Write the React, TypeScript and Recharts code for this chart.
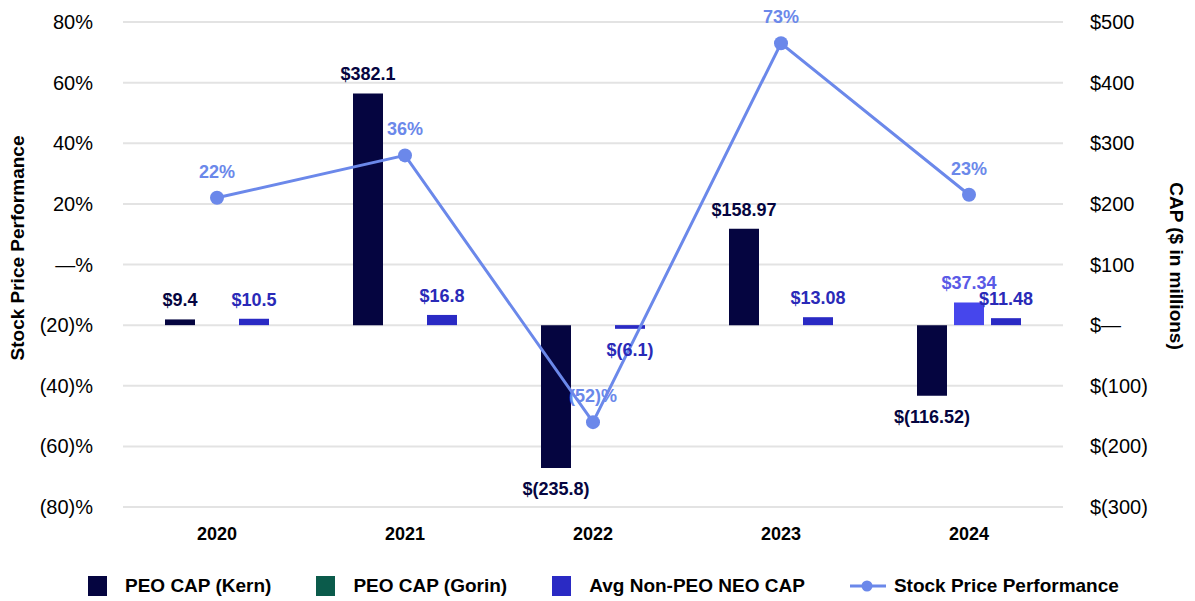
import React from 'react';
import {
  ComposedChart,
  Bar,
  Line,
  XAxis,
  YAxis,
  CartesianGrid,
  Legend,
  LabelList,
  Cell,
} from 'recharts';

const years = ['2020', '2021', '2022', '2023', '2024'];
const kernCap = [9.4, 382.1, -235.8, 158.97, -116.52];
const gorinCap: (number | null)[] = [null, null, null, null, 37.34];
const avgNeoCap = [10.5, 16.8, -6.1, 13.08, 11.48];
const stockPerf = [22, 36, -52, 73, 23];

const leftTicks = [-80, -60, -40, -20, 0, 20, 40, 60, 80];
const rightTicks = [-300, -200, -100, 0, 100, 200, 300, 400, 500];

const seriesNames = ['PEO CAP (Kern)', 'PEO CAP (Gorin)', 'Avg Non-PEO NEO CAP', 'Stock Price Performance'];

const data = years.map((y, i) => ({
  year: y,
  kern: kernCap[i],
  gorin: gorinCap[i],
  avg: avgNeoCap[i],
  stock: stockPerf[i],
}));

const FONT = '"Liberation Sans", Arial, Helvetica, sans-serif';
const NAVY = '#050540';
const GREEN = '#0b5b4b';
const BLUE = '#2a2ac4';
const BRIGHT = '#4646ec';
const LINE = '#6b88ea';

const fmtPct = (v: number) => (v === 0 ? '—%' : v < 0 ? `(${-v})%` : `${v}%`);
const fmtCapAxis = (v: number) => (v === 0 ? '$—' : v < 0 ? `$(${-v})` : `$${v}`);
const fmtCap = (v: number) => (v < 0 ? `$(${Math.abs(v)})` : `$${v}`);

const makeBarLabel = (color: string) => (props: any) => {
  const { x, y, width, height, value } = props;
  if (value === null || value === undefined) return null;
  const top = Math.min(y, y + height);
  const bottom = Math.max(y, y + height);
  const cy = value >= 0 ? top - 19 : bottom + 21;
  return (
    <text
      x={x + width / 2}
      y={cy}
      textAnchor="middle"
      dominantBaseline="central"
      fill={color}
      fontFamily={FONT}
      fontWeight="bold"
      fontSize={18}
    >
      {fmtCap(value)}
    </text>
  );
};

const lineLabel = (props: any) => {
  const { x, y, value } = props;
  if (value === null || value === undefined) return null;
  return (
    <text
      x={x}
      y={y - 26}
      textAnchor="middle"
      dominantBaseline="central"
      fill={LINE}
      fontFamily={FONT}
      fontWeight="bold"
      fontSize={18}
    >
      {fmtPct(value)}
    </text>
  );
};

const LeftAxisLabel = (props: any) => {
  return (
    <text
      x={17}
      y={248}
      transform={`rotate(-90, 17, 248)`}
      textAnchor="middle"
      dominantBaseline="central"
      fill="#000"
      fontFamily={FONT}
      fontWeight="bold"
      fontSize={19}
    >
      Stock Price Performance
    </text>
  );
};

const RightAxisLabel = (props: any) => {
  return (
    <text
      x={1176}
      y={266}
      transform={`rotate(90, 1176, 266)`}
      textAnchor="middle"
      dominantBaseline="central"
      fill="#000"
      fontFamily={FONT}
      fontWeight="bold"
      fontSize={19}
    >
      CAP ($ in millions)
    </text>
  );
};

const renderLegend = (props: any) => {
  const payload = [...(props.payload || [])].sort(
    (a: any, b: any) => seriesNames.indexOf(a.value) - seriesNames.indexOf(b.value)
  );
  return (
    <div
      style={{
        display: 'flex',
        alignItems: 'center',
        paddingLeft: 88,
        height: 22,
        fontFamily: FONT,
        fontWeight: 'bold',
        fontSize: 19,
        color: '#000',
      }}
    >
      {payload.map((entry: any, i: number) => (
        <div
          key={i}
          style={{ display: 'flex', alignItems: 'center', marginRight: 45, whiteSpace: 'nowrap' }}
        >
          {entry.type === 'line' ? (
            <svg width={36} height={14} style={{ marginRight: 8 }}>
              <line x1={0} y1={7} x2={36} y2={7} stroke={LINE} strokeWidth={3} />
              <circle cx={17} cy={7} r={5.5} fill={LINE} />
            </svg>
          ) : (
            <div
              style={{ width: 19, height: 20, background: entry.color, marginRight: 18 }}
            />
          )}
          <span>{entry.value}</span>
        </div>
      ))}
    </div>
  );
};

export default function App() {
  return (
    <div style={{ position: 'absolute', left: 0, top: 0, width: 1195, height: 601, background: '#fff' }}>
      <ComposedChart
        width={1195}
        height={601}
        data={data}
        margin={{ top: 22, right: 0, left: 0, bottom: 54 }}
        barSize={30}
        barGap={7}
      >
        <CartesianGrid
          vertical={false}
          horizontal
          stroke="#e3e3e3"
          strokeWidth={2}
          yAxisId="left"
        />
        <XAxis
          dataKey="year"
          height={40}
          axisLine={false}
          tickLine={false}
          tickSize={0}
          tickMargin={20}
          tick={{ fill: '#000', fontFamily: FONT, fontWeight: 'bold', fontSize: 18 }}
        />
        <YAxis
          yAxisId="left"
          orientation="left"
          width={123}
          domain={[-80, 80]}
          ticks={leftTicks}
          interval={0}
          axisLine={false}
          tickLine={false}
          tickSize={0}
          tickMargin={30}
          tickFormatter={fmtPct}
          tick={{ fill: '#000', fontFamily: FONT, fontSize: 20 }}
          label={<LeftAxisLabel />}
        />
        <YAxis
          yAxisId="right"
          orientation="right"
          width={132}
          domain={[-300, 500]}
          ticks={rightTicks}
          interval={0}
          axisLine={false}
          tickLine={false}
          tickSize={0}
          tickMargin={27}
          tickFormatter={fmtCapAxis}
          tick={{ fill: '#000', fontFamily: FONT, fontSize: 20 }}
          label={<RightAxisLabel />}
        />
        <Bar yAxisId="right" dataKey="kern" name="PEO CAP (Kern)" fill={NAVY} isAnimationActive={false}>
          <LabelList dataKey="kern" content={makeBarLabel(NAVY)} />
        </Bar>
        <Bar yAxisId="right" dataKey="gorin" name="PEO CAP (Gorin)" fill={GREEN} isAnimationActive={false}>
          {data.map((d, i) => (
            <Cell key={i} fill={BRIGHT} />
          ))}
          <LabelList dataKey="gorin" content={makeBarLabel('#5a5ae6')} />
        </Bar>
        <Bar yAxisId="right" dataKey="avg" name="Avg Non-PEO NEO CAP" fill={BLUE} isAnimationActive={false}>
          <LabelList dataKey="avg" content={makeBarLabel('#2a2ab8')} />
        </Bar>
        <Line
          yAxisId="left"
          type="linear"
          dataKey="stock"
          name="Stock Price Performance"
          stroke={LINE}
          strokeWidth={3}
          dot={{ r: 7, fill: LINE, stroke: LINE, strokeWidth: 0 }}
          activeDot={false}
          isAnimationActive={false}
        >
          <LabelList dataKey="stock" content={lineLabel} />
        </Line>
        <Legend
          layout="horizontal"
          verticalAlign="middle"
          align="center"
          content={renderLegend}
          wrapperStyle={{ position: 'absolute', top: 575, left: 0, width: 1195, height: 22 }}
        />
      </ComposedChart>
    </div>
  );
}
